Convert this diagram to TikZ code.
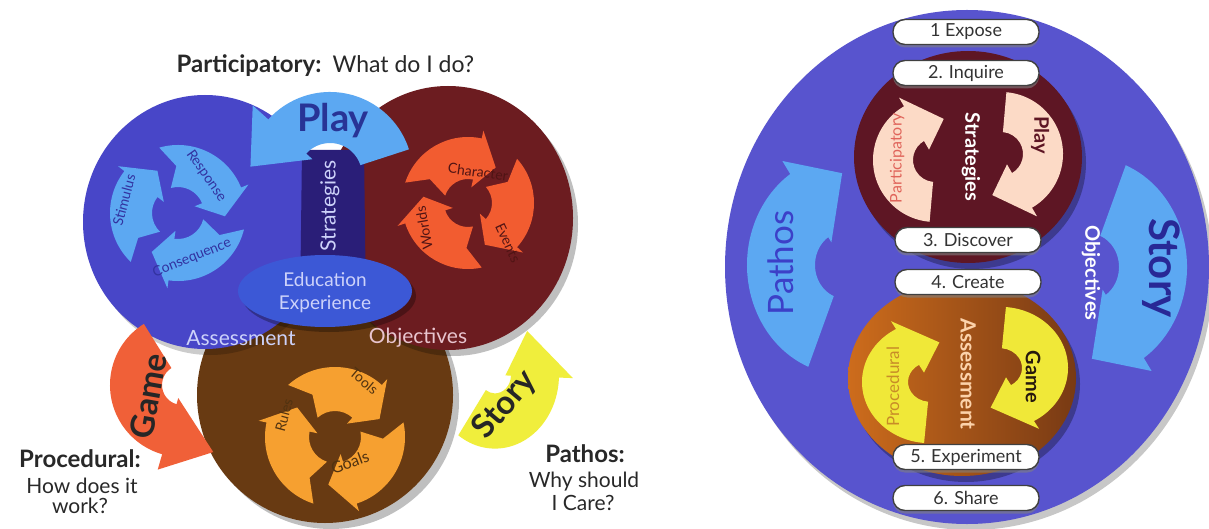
\documentclass[tikz,border=0pt]{standalone}
\usepackage{fontspec}
\setmainfont{Lato}
\usetikzlibrary{calc,shadows}
\definecolor{bluecirc}{RGB}{72,70,200}
\definecolor{navyband}{RGB}{42,30,120}
\definecolor{maroonc}{RGB}{108,28,32}
\definecolor{brownc}{RGB}{104,58,18}
\definecolor{ellblue}{RGB}{60,88,214}
\definecolor{lightblue}{RGB}{92,168,242}
\definecolor{redor}{RGB}{242,92,48}
\definecolor{orng}{RGB}{246,160,48}
\definecolor{gamered}{RGB}{240,96,56}
\definecolor{storyy}{RGB}{240,238,60}
\definecolor{bigblue}{RGB}{88,84,206}
\definecolor{topmar}{RGB}{94,22,36}
\definecolor{botor}{RGB}{205,108,28}
\definecolor{botbr}{RGB}{120,58,20}
\definecolor{pinkar}{RGB}{252,218,198}
\definecolor{yelar}{RGB}{240,232,56}
\definecolor{darktxt}{RGB}{40,40,40}
\definecolor{lavtxt}{RGB}{205,210,250}
\definecolor{objtxt}{RGB}{232,196,206}
\definecolor{playtxt}{RGB}{40,52,150}
\definecolor{cycblue}{RGB}{50,50,160}
\definecolor{cycmar}{RGB}{80,20,20}
\definecolor{cycbr}{RGB}{80,50,16}
\definecolor{pathtxt}{RGB}{60,64,200}
\definecolor{storytxt}{RGB}{40,40,150}
\definecolor{parttxt}{RGB}{224,100,90}
\definecolor{proctxt}{RGB}{200,140,40}
\definecolor{asstxt}{RGB}{252,210,170}

% #1 centre, #2 inner r, #3 outer r, #4 tail angle, #5 tip angle,
% #6 head length (signed), #7 head overhang, #8 tail notch (signed), #9 style
\newcommand\ringarrow[9]{%
  \pgfmathsetmacro\rgA{#5-#6}%
  \pgfmathsetmacro\rgM{(#2+#3)/2}%
  \pgfmathsetmacro\rgO{#3+#7}%
  \pgfmathsetmacro\rgI{max(#2-#7,0)}%
  \pgfmathsetmacro\rgN{#4+#8}%
  \fill[#9] ($(#1)+(#4:#3)$) arc[start angle=#4, end angle=\rgA, radius=#3]
    -- ($(#1)+(\rgA:\rgO)$) -- ($(#1)+(#5:\rgM)$) -- ($(#1)+(\rgA:\rgI)$)
    -- ($(#1)+(\rgA:#2)$) arc[start angle=\rgA, end angle=#4, radius=#2]
    -- ($(#1)+(\rgN:\rgM)$) -- cycle;}
% #1 centre, #2 inner r, #3 outer r, #4 tail angle, #5 head base angle,
% #6 tip angle, #7 tip radius, #8 head overhang, #9 style
\newcommand\ringarrowT[9]{%
  \pgfmathsetmacro\rgO{#3+#8}%
  \pgfmathsetmacro\rgI{max(#2-0.4*#8,0)}%
  \fill[#9] ($(#1)+(#4:#3)$) arc[start angle=#4, end angle=#5, radius=#3]
    -- ($(#1)+(#5:\rgO)$) -- ($(#1)+(#6:#7)$) -- ($(#1)+(#5:\rgI)$)
    -- ($(#1)+(#5:#2)$) arc[start angle=#5, end angle=#4, radius=#2] -- cycle;}
% three-part cycle: #1 centre, #2 rin, #3 rout, #4 offset, #5 style
\newcommand\cyc[5]{\foreach \k in {0,1,2}{%
  \pgfmathsetmacro\cyS{#4+120*\k}\pgfmathsetmacro\cyE{#4+120*\k+110}%
  \ringarrow{#1}{#2}{#3}{\cyS}{\cyE}{26}{8}{14}{#5}}}

\tikzset{
  stepbox/.style={draw=black!75, line width=1.4pt, fill=white, rounded corners=12pt,
    minimum width=146pt, minimum height=25pt, inner sep=0pt,
    font=\fontsize{18}{20}\selectfont, text=black!80,
    drop shadow={shadow xshift=0pt, shadow yshift=-3pt, opacity=0.6}},
  cyctxt/.style={font=\fontsize{14}{16}\selectfont},
  capt/.style={font=\fontsize{21}{23}\selectfont, text=darktxt},
  captb/.style={font=\bfseries\fontsize{24}{26}\selectfont, text=darktxt},
}

\begin{document}
\begin{tikzpicture}[x=1pt,y=-1pt]
\useasboundingbox (0,0) rectangle (1209,529);
\fill[white] (0,0) rectangle (1209,529);

%================ LEFT DIAGRAM ================
\fill[black,opacity=0.25] (331,401) circle (128);
\fill[brownc] (325,395) circle (128);
\fill[black,opacity=0.25] (453,224) ellipse[x radius=125, y radius=132];
\fill[maroonc] (448,218) ellipse[x radius=125, y radius=132];
\fill[black,opacity=0.2] (210,228) ellipse[x radius=122, y radius=127];
\fill[bluecirc] (205,222) ellipse[x radius=122, y radius=127];
\fill[navyband] (302,150) -- (364,150) -- (366,310) -- (300,310) -- cycle;
\fill[black,opacity=0.3] (329,296) ellipse[x radius=87, y radius=36];
\fill[ellblue] (325,291) ellipse[x radius=87, y radius=36];
\node[font=\fontsize{19}{23}\selectfont, text=lavtxt, align=center] (edu) at (325,293) {Education\\Experience};

\cyc{178,213}{26}{68}{134}{fill=lightblue}
\cyc{468,203}{24}{66}{78}{fill=redor}
\cyc{335,437}{26}{70}{108}{fill=orng}

\node[cyctxt, text=cycblue, rotate=75]  (stim) at (124,200) {Stimulus};
\node[cyctxt, text=cycblue, rotate=-55] (resp) at (206,176) {Response};
\node[cyctxt, text=cycblue, rotate=22]  (cons) at (192,258) {Consequence};
\node[cyctxt, text=cycmar, rotate=-8]   (char) at (478,172) {Character};
\node[cyctxt, text=cycmar, rotate=-65]  (evts) at (508,243) {Events};
\node[cyctxt, text=cycmar, rotate=100]  (wrld) at (424,228) {Worlds};
\node[cyctxt, text=cycbr, rotate=-40]   (tools) at (364,381) {Tools};
\node[cyctxt, text=cycbr, rotate=75]    (rules) at (284,415) {Rules};
\node[cyctxt, text=cycbr, rotate=20, font=\fontsize{16}{18}\selectfont] (goals) at (350,462) {Goals};

% big arrows: Play, Game, Story
\ringarrowT{330,175}{32}{83}{342}{222}{186}{80}{21}{fill=lightblue}
\ringarrowT{182,385}{20}{72}{238}{106}{65}{74}{16}{fill=gamered}
\begin{scope}[shift={(495,375)}, yscale=1.15]
  \ringarrowT{0,0}{16}{64}{125}{2}{-50}{50}{14}{fill=storyy}
\end{scope}

\node[font=\bfseries\fontsize{38}{40}\selectfont, text=playtxt] (play) at (333,121) {Play};
\node[font=\bfseries\fontsize{33}{35}\selectfont, text=black!85, rotate=80] (game) at (148,396) {Game};
\node[font=\bfseries\fontsize{33}{35}\selectfont, text=black!85, rotate=50] (story) at (505,405) {Story};

\node[font=\fontsize{21}{23}\selectfont, text=lavtxt, rotate=90] (strat) at (330,206) {Strategies};
\node[font=\fontsize{21}{23}\selectfont, text=lavtxt] (assess) at (241,338) {Assessment};
\node[font=\fontsize{21}{23}\selectfont, text=objtxt] (obj) at (418,338) {Objectives};

% captions
\node[captb, anchor=base east] (part) at (325,73) {Participatory:};
\node[capt, font=\fontsize{23}{25}\selectfont, anchor=base west] (what) at (329,73) {What do I do?};
\node[captb, anchor=base] (proc) at (80,467) {Procedural:};
\node[capt, anchor=base] (how) at (82,493) {How does it};
\node[capt, anchor=base] (work) at (80,513) {work?};
\node[captb, anchor=base] (path) at (585,462) {Pathos:};
\node[capt, anchor=base] (why) at (584,487) {Why should};
\node[capt, anchor=base] (care) at (583,510) {I Care?};

%================ RIGHT DIAGRAM ================
\fill[black,opacity=0.22] (971,273) ellipse[x radius=242, y radius=257];
\fill[bigblue] (967,267) ellipse[x radius=242, y radius=257];

\begin{scope}[shift={(845,265)}, yscale=1.12]
  \ringarrowT{0,0}{30}{98}{112}{236}{268}{82}{14}{fill=lightblue}
\end{scope}
\begin{scope}[rotate around={180:(967,266)}]
\begin{scope}[shift={(845,265)}, yscale=1.12]
  \ringarrowT{0,0}{30}{98}{112}{236}{268}{82}{14}{fill=lightblue}
\end{scope}
\end{scope}
\node[font=\fontsize{35}{38}\selectfont, text=pathtxt, rotate=90] (pathos) at (781,263) {Pathos};
\node[font=\bfseries\fontsize{42}{45}\selectfont, text=storytxt, rotate=-90] (storyr) at (1161,268) {Story};
\node[font=\bfseries\fontsize{20}{22}\selectfont, text=white, rotate=-90] (objr) at (1091,273) {Objectives};

% top inner circle
\fill[black,opacity=0.3] (972,163) ellipse[x radius=114, y radius=106];
\fill[topmar] (968,157) ellipse[x radius=114, y radius=106];
\begin{scope}[shift={(935,160)}]
  \ringarrow{0,0}{22}{62}{95}{282}{42}{10}{0}{fill=pinkar}
\end{scope}
\begin{scope}[rotate around={180:(968,157)}]
\begin{scope}[shift={(935,160)}]
  \ringarrow{0,0}{22}{62}{95}{282}{42}{10}{0}{fill=pinkar}
\end{scope}
\end{scope}
\node[font=\bfseries\fontsize{20}{22}\selectfont, text=white, rotate=-90] (stratr) at (971,157) {Strategies};
\node[font=\fontsize{16}{18}\selectfont, text=parttxt, rotate=90] (partr) at (897,158) {Participatory};
\node[font=\bfseries\fontsize{20}{22}\selectfont, text=topmar, rotate=-90] (playr) at (1040,135) {Play};

% bottom inner circle
\fill[black,opacity=0.3] (966,384) ellipse[x radius=114, y radius=98];
\shade[left color=botor, right color=botbr] (962,378) ellipse[x radius=114, y radius=98];
\begin{scope}[shift={(930,382)}, yscale=0.9]
  \ringarrow{0,0}{22}{68}{95}{282}{42}{10}{0}{fill=yelar}
\end{scope}
\begin{scope}[rotate around={180:(965,375)}]
\begin{scope}[shift={(930,382)}, yscale=0.9]
  \ringarrow{0,0}{22}{68}{95}{282}{42}{10}{0}{fill=yelar}
\end{scope}
\end{scope}
\node[font=\bfseries\fontsize{21}{23}\selectfont, text=asstxt, rotate=-90] (assr) at (968,374) {Assessment};
\node[font=\fontsize{17}{19}\selectfont, text=proctxt, rotate=90] (procr) at (893,387) {Procedural};
\node[font=\bfseries\fontsize{20}{22}\selectfont, text=black!80!brown, rotate=-90] (gamer) at (1033,377) {Game};

% step labels
\node[stepbox] (s1) at (966,32)  {1 Expose};
\node[stepbox] (s2) at (966,73)  {2. Inquire};
\node[stepbox] (s3) at (968,240) {3. Discover};
\node[stepbox] (s4) at (968,282) {4. Create};
\node[stepbox] (s5) at (966,457) {5. Experiment};
\node[stepbox] (s6) at (966,498) {6. Share};
\end{tikzpicture}
\end{document}
